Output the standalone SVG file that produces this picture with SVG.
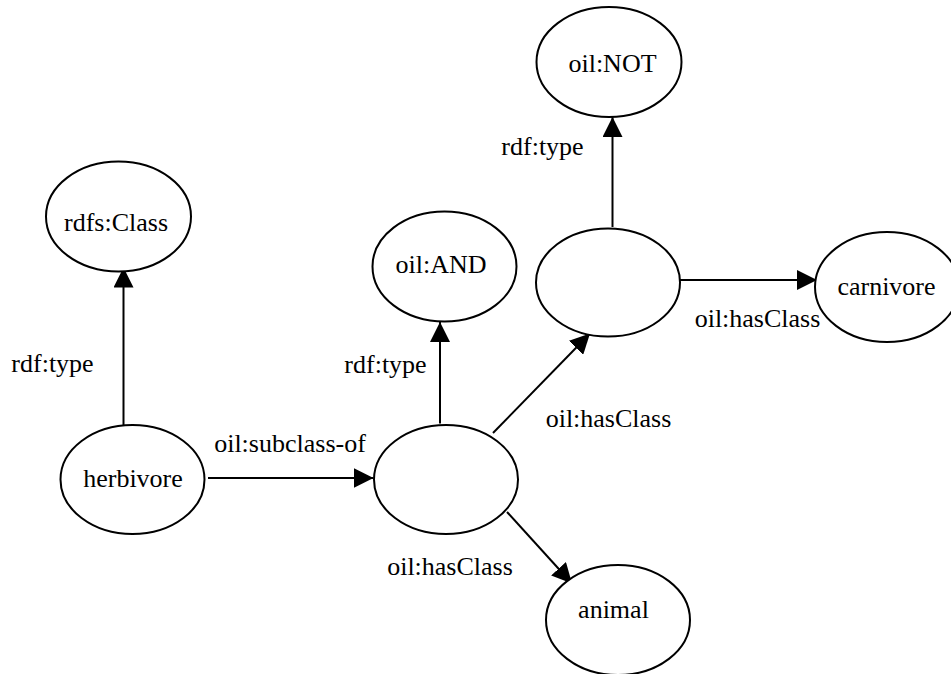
<svg xmlns="http://www.w3.org/2000/svg" width="951" height="674" viewBox="0 0 951 674">
<style>
.node ellipse { fill: #ffffff; stroke: #000000; stroke-width: 2; }
.node text, .lbl { font-family: "Liberation Serif", "Times New Roman", serif; font-size: 26px; fill: #000000; text-anchor: middle; }
.edge { stroke: #000000; stroke-width: 2; fill: none; marker-end: url(#arrow); }
</style>
<defs>
<marker id="arrow" markerUnits="userSpaceOnUse" markerWidth="20" markerHeight="20" refX="20" refY="10" orient="auto">
<path d="M0,0 L20,10 L0,20 z" fill="#000000"/>
</marker>
</defs>
<rect width="951" height="674" fill="#ffffff"/>
<g id="connectors">
<line class="edge" x1="123.5" y1="426.5" x2="123.5" y2="267.5"/>
<line class="edge" x1="208" y1="478" x2="373.5" y2="478"/>
<line class="edge" x1="440" y1="423.5" x2="440" y2="322"/>
<line class="edge" x1="493" y1="433" x2="590" y2="333.5"/>
<line class="edge" x1="507" y1="512" x2="572" y2="583.5"/>
<line class="edge" x1="612.5" y1="227" x2="612.5" y2="117"/>
<line class="edge" x1="680" y1="280" x2="817" y2="280"/>
</g>
<g id="edge-labels">
<text class="lbl" x="542.5" y="155">rdf:type</text>
<text class="lbl" x="52.5" y="372">rdf:type</text>
<text class="lbl" x="385.5" y="373">rdf:type</text>
<text class="lbl" x="608.5" y="427">oil:hasClass</text>
<text class="lbl" x="290" y="451.5">oil:subclass-of</text>
<text class="lbl" x="757.5" y="326.5">oil:hasClass</text>
<text class="lbl" x="450" y="575">oil:hasClass</text>
</g>
<g id="node-not" class="node">
<ellipse cx="609" cy="62" rx="72.5" ry="55"/>
<text x="612.5" y="72">oil:NOT</text>
</g>
<g id="node-rdfsclass" class="node">
<ellipse cx="118.5" cy="216.5" rx="72.5" ry="55"/>
<text x="116" y="230.5">rdfs:Class</text>
</g>
<g id="node-and" class="node">
<ellipse cx="444.5" cy="266.5" rx="72" ry="55"/>
<text x="441" y="272.5">oil:AND</text>
</g>
<g id="node-blank-upper" class="node">
<ellipse cx="608" cy="282.5" rx="72" ry="54"/>
</g>
<g id="node-carnivore" class="node">
<ellipse cx="887" cy="287" rx="72" ry="55"/>
<text x="886.5" y="295">carnivore</text>
</g>
<g id="node-herbivore" class="node">
<ellipse cx="132.5" cy="479.5" rx="72" ry="54.5"/>
<text x="133" y="487">herbivore</text>
</g>
<g id="node-blank-lower" class="node">
<ellipse cx="446" cy="479.5" rx="72" ry="54.5"/>
</g>
<g id="node-animal" class="node">
<ellipse cx="618" cy="620" rx="72" ry="55"/>
<text x="613.5" y="618">animal</text>
</g>
</svg>
